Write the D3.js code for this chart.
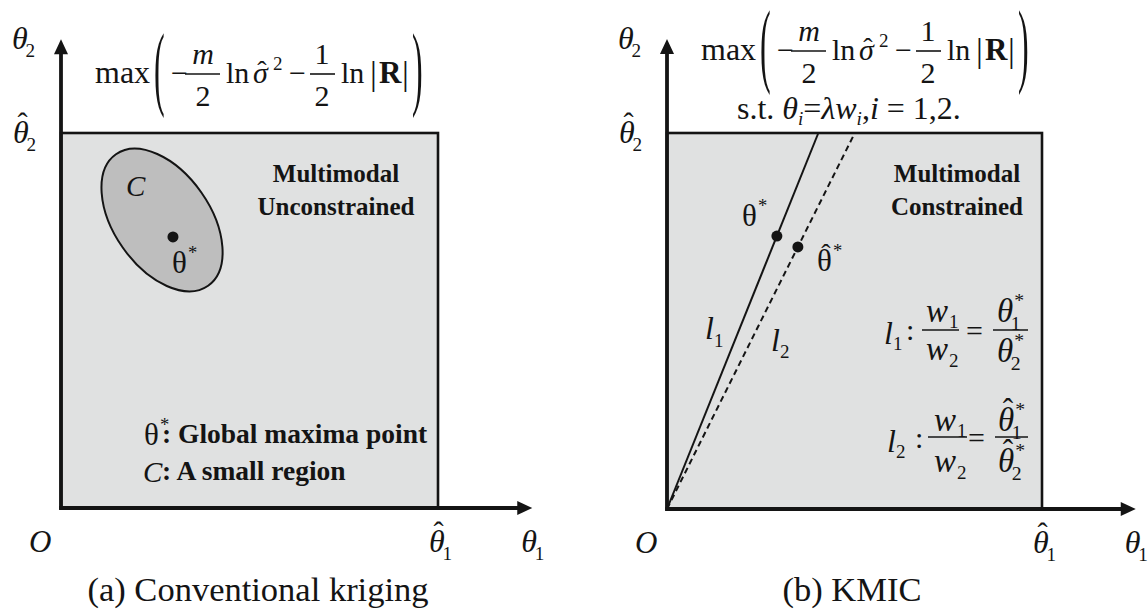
<!DOCTYPE html>
<html>
<head>
<meta charset="utf-8">
<script src="https://cdn.jsdelivr.net/npm/d3@7"></script>
<style>
  body { margin: 0; background: #fff; }
  svg { display: block; }
  svg text { font-family: "Liberation Serif", "DejaVu Serif", "Times New Roman", serif; fill: #141414; }
</style>
</head>
<body>
<svg id="fig" width="1148" height="612"></svg>
<script>
// ---- figure content ----
const panels = ["a", "b"];
const captions = ["(a) Conventional kriging", "(b) KMIC"];
const regionTitles = [["Multimodal", "Unconstrained"], ["Multimodal", "Constrained"]];

// Feasible box upper bounds (θ̂1, θ̂2) in normalised units; axes run a bit past them
const boxUpper = [1, 1];
const axisExtent = [1.25, 1.25];

// Panel (a): small region C (centre, semi-axes, tilt in degrees) and the global maximum θ*
const regionC = { cx: 0.268, cy: 0.768, a: 0.213, b: 0.128, tilt: 55 };
const thetaStarA = [0.297, 0.723];

// Panel (b): true optimum θ* (line l1) and constrained optimum θ̂* (line l2)
const thetaStarB = [0.293, 0.726];
const thetaHatStarB = [0.349, 0.697];

// ---- layout ----
const frames = [
  { x0: 61, x1: 438, y0: 508, y1: 133 },
  { x0: 667, x1: 1042, y0: 509, y1: 133 }
];
const BOX_FILL = "#e0e1e1";
const REGION_FILL = "#bebebe";
const INK = "#141414";
const SERIF = "Liberation Serif, DejaVu Serif, serif";

const svg = d3.select("#fig");

function txt(g, s, x, y, o = {}) {
  const t = g.append("text")
    .attr("x", x).attr("y", y)
    .attr("font-family", SERIF)
    .attr("font-size", o.size || 30)
    .attr("text-anchor", o.anchor || "start")
    .text(s);
  if (o.italic) t.attr("font-style", "italic");
  if (o.bold) t.attr("font-weight", "bold");
  return t;
}
function hat(g, x, y, size = 30) {
  return txt(g, "\u02C6", x, y, { size, anchor: "middle" });
}
function bigParen(g, s, x, yCenter, size = 32, stretch = 2.9) {
  // tall parenthesis: a glyph stretched vertically about its centre
  const base = yCenter + 0.255 * size * stretch;
  g.append("text")
    .attr("transform", `translate(${x},${base}) scale(1,${stretch})`)
    .attr("font-family", SERIF)
    .attr("font-size", size)
    .text(s);
}
function bar(g, x1, x2, y) {
  g.append("line").attr("x1", x1).attr("x2", x2).attr("y1", y).attr("y2", y)
    .attr("stroke", INK).attr("stroke-width", 1.6);
}

// objective: max( -m/2 ln σ̂² - 1/2 ln|R| ), placed relative to (ox, oy) = baseline start of "max"
function objective(g, ox, oy) {
  const X = d => ox + d, Y = d => oy + d;
  txt(g, "max", X(0), Y(0), { size: 32 });
  bigParen(g, "(", X(59), Y(-9));
  txt(g, "\u2212", X(76), Y(0), { size: 30 });
  bar(g, X(90), X(125), Y(-9));
  txt(g, "m", X(108), Y(-19), { size: 30, italic: true, anchor: "middle" });
  txt(g, "2", X(108), Y(23), { size: 30, anchor: "middle" });
  txt(g, "ln", X(131), Y(0), { size: 30 });
  txt(g, "\u03C3", X(158), Y(0), { size: 30, italic: true });
  hat(g, X(167), Y(-3), 28);
  txt(g, "2", X(178), Y(-13), { size: 19 });
  txt(g, "\u2212", X(194), Y(0), { size: 30 });
  bar(g, X(215), X(240), Y(-9));
  txt(g, "1", X(227), Y(-19), { size: 30, anchor: "middle" });
  txt(g, "2", X(227), Y(23), { size: 30, anchor: "middle" });
  txt(g, "ln", X(246), Y(0), { size: 30 });
  txt(g, "|", X(275), Y(2), { size: 34 });
  txt(g, "R", X(284), Y(0), { size: 31, bold: true });
  txt(g, "|", X(307), Y(2), { size: 34 });
  bigParen(g, ")", X(317), Y(-9));
}

// θ with optional hat, superscript and subscript
function theta(g, x, y, o = {}) {
  const size = o.size || 30;
  const t = txt(g, "\u03B8", x, y, { size, italic: !o.upright });
  if (o.hat) hat(g, x + size * 0.3, y - size * 0.32, size * 0.95);
  if (o.sup) txt(g, o.sup, x + size * 0.52, y - size * 0.45, { size: size * 0.6 });
  if (o.sub) txt(g, o.sub, x + size * 0.42, y + size * 0.25, { size: size * 0.6 });
  return t;
}

panels.forEach((p, i) => {
  const f = frames[i];
  const g = svg.append("g").attr("class", "panel-" + p);
  const x = d3.scaleLinear().domain([0, boxUpper[0]]).range([f.x0, f.x1]);
  const y = d3.scaleLinear().domain([0, boxUpper[1]]).range([f.y0, f.y1]);

  // feasible box
  g.append("rect")
    .attr("x", x(0)).attr("y", y(boxUpper[1]))
    .attr("width", x(boxUpper[0]) - x(0)).attr("height", y(0) - y(boxUpper[1]))
    .attr("fill", BOX_FILL).attr("stroke", INK).attr("stroke-width", 2.6);

  if (p === "a") {
    const sx = x(1) - x(0), sy = y(0) - y(1);
    g.append("ellipse")
      .attr("cx", x(regionC.cx)).attr("cy", y(regionC.cy))
      .attr("rx", regionC.a * sx).attr("ry", regionC.b * sy)
      .attr("transform", `rotate(${regionC.tilt},${x(regionC.cx)},${y(regionC.cy)})`)
      .attr("fill", REGION_FILL).attr("stroke", INK).attr("stroke-width", 2);
    g.append("circle").attr("cx", x(thetaStarA[0])).attr("cy", y(thetaStarA[1]))
      .attr("r", 5.5).attr("fill", INK);
    theta(g, x(thetaStarA[0]) - 1, y(thetaStarA[1]) + 36, { upright: true, sup: "*", size: 31 });
    txt(g, "C", 126, 196, { size: 29, italic: true });
  } else {
    // lines through the origin and each optimum, clipped at the top of the box
    const lineTo = (pt) => [[0, 0], [pt[0] / pt[1] * boxUpper[1], boxUpper[1]]];
    const line = d3.line().x(d => x(d[0])).y(d => y(d[1]));
    g.append("path").attr("d", line(lineTo(thetaStarB)))
      .attr("fill", "none").attr("stroke", INK).attr("stroke-width", 2);
    g.append("path").attr("d", line(lineTo(thetaHatStarB)))
      .attr("fill", "none").attr("stroke", INK).attr("stroke-width", 2)
      .attr("stroke-dasharray", "6,4");
    [thetaStarB, thetaHatStarB].forEach(pt => {
      g.append("circle").attr("cx", x(pt[0])).attr("cy", y(pt[1]))
        .attr("r", 5.5).attr("fill", INK);
    });
    theta(g, x(thetaStarB[0]) - 35, y(thetaStarB[1]) - 10, { upright: true, sup: "*", size: 31 });
    const hx = x(thetaHatStarB[0]) + 19, hy = y(thetaHatStarB[1]) + 24;
    theta(g, hx, hy, { upright: true, sup: "*", size: 31 });
    hat(g, hx + 9, hy - 8, 28);

    // line labels l1, l2
    txt(g, "l", 705, 339, { size: 32, italic: true });
    txt(g, "1", 714, 347, { size: 19 });
    txt(g, "l", 771, 351, { size: 32, italic: true });
    txt(g, "2", 780, 358, { size: 19 });

    // l1 : w1/w2 = θ1*/θ2*
    txt(g, "l", 884, 344, { size: 32, italic: true });
    txt(g, "1", 893, 350, { size: 19 });
    txt(g, ":", 906, 340, { size: 30 });
    bar(g, 922, 959, 330);
    txt(g, "w", 926, 322, { size: 33, italic: true });
    txt(g, "1", 949, 328, { size: 19 });
    txt(g, "w", 926, 360, { size: 33, italic: true });
    txt(g, "2", 949, 367, { size: 19 });
    txt(g, "=", 966, 341, { size: 30 });
    bar(g, 993, 1028, 330);
    theta(g, 997, 322, { sup: "*", sub: "1", size: 33 });
    theta(g, 997, 362, { sup: "*", sub: "2", size: 33 });

    // l2 : w1/w2 = θ̂1*/θ̂2*
    txt(g, "l", 887, 452, { size: 32, italic: true });
    txt(g, "2", 896, 458, { size: 19 });
    txt(g, ":", 915, 448, { size: 30 });
    bar(g, 928, 967, 437);
    txt(g, "w", 934, 431, { size: 33, italic: true });
    txt(g, "1", 957, 437, { size: 19 });
    txt(g, "w", 934, 472, { size: 33, italic: true });
    txt(g, "2", 957, 479, { size: 19 });
    txt(g, "=", 968, 448, { size: 30 });
    bar(g, 995, 1028, 437);
    theta(g, 998, 431, { sup: "*", sub: "1", hat: true, size: 33 });
    theta(g, 998, 472, { sup: "*", sub: "2", hat: true, size: 33 });
  }

  // region title
  const cxTitle = p === "a" ? 336 : 957;
  regionTitles[i].forEach((s, k) => {
    txt(g, s, cxTitle, 182 + k * 33, { size: 25, bold: true, anchor: "middle" });
  });

  // axes with arrowheads
  const tipX = x(axisExtent[0]), tipY = y(axisExtent[1]);
  g.append("line").attr("x1", x(0)).attr("y1", y(0) + 1.8).attr("x2", x(0)).attr("y2", tipY + 12)
    .attr("stroke", INK).attr("stroke-width", 3.8);
  g.append("line").attr("x1", x(0) - 1.8).attr("y1", y(0)).attr("x2", tipX - 12).attr("y2", y(0))
    .attr("stroke", INK).attr("stroke-width", 3.8);
  g.append("path").attr("d", `M${x(0)},${tipY} L${x(0) - 7},${tipY + 15} L${x(0) + 7},${tipY + 15} Z`).attr("fill", INK);
  g.append("path").attr("d", `M${tipX},${y(0)} L${tipX - 15},${y(0) - 7} L${tipX - 15},${y(0) + 7} Z`).attr("fill", INK);

  // axis labels
  theta(g, x(0) - 49, tipY + 10, { sub: "2", size: 32 });
  theta(g, x(0) - 48, y(boxUpper[1]) + 10, { sub: "2", hat: true, size: 32 });
  txt(g, "O", x(0) - 32, y(0) + 44, { size: 31, italic: true });
  theta(g, x(boxUpper[0]) - 9, y(0) + 44, { sub: "1", hat: true, size: 32 });
  theta(g, tipX - 11, y(0) + 44, { sub: "1", size: 32 });

  // objective
  if (p === "a") {
    objective(g, 95, 83);
  } else {
    objective(g, 701, 60);
    const st = g.append("text").attr("x", 737).attr("y", 119)
      .attr("font-family", SERIF).attr("font-size", 32);
    st.append("tspan").text("s.t. ");
    st.append("tspan").attr("font-style", "italic").text("\u03B8");
    st.append("tspan").attr("font-style", "italic").attr("font-size", 19).attr("dy", 6).text("i");
    st.append("tspan").attr("dy", -6).text("=");
    st.append("tspan").attr("font-style", "italic").text("\u03BBw");
    st.append("tspan").attr("font-style", "italic").attr("font-size", 19).attr("dy", 6).text("i");
    st.append("tspan").attr("dy", -6).text(",");
    st.append("tspan").attr("font-style", "italic").text("i");
    st.append("tspan").text(" = 1,2.");
  }

  // caption
  const capX = p === "a" ? 258 : 852;
  txt(g, captions[i], capX, 601, { size: 34.5, anchor: "middle" });
});

// legend in panel (a)
const lg = svg.append("g").attr("class", "legend");
theta(lg, 144, 445, { upright: true, sup: "*", size: 31 });
txt(lg, ": Global maxima point", 162, 443, { size: 27.5, bold: true });
txt(lg, "C", 143, 482, { size: 29, italic: true });
txt(lg, ": A small region", 162, 480, { size: 27.5, bold: true });
</script>
</body>
</html>
